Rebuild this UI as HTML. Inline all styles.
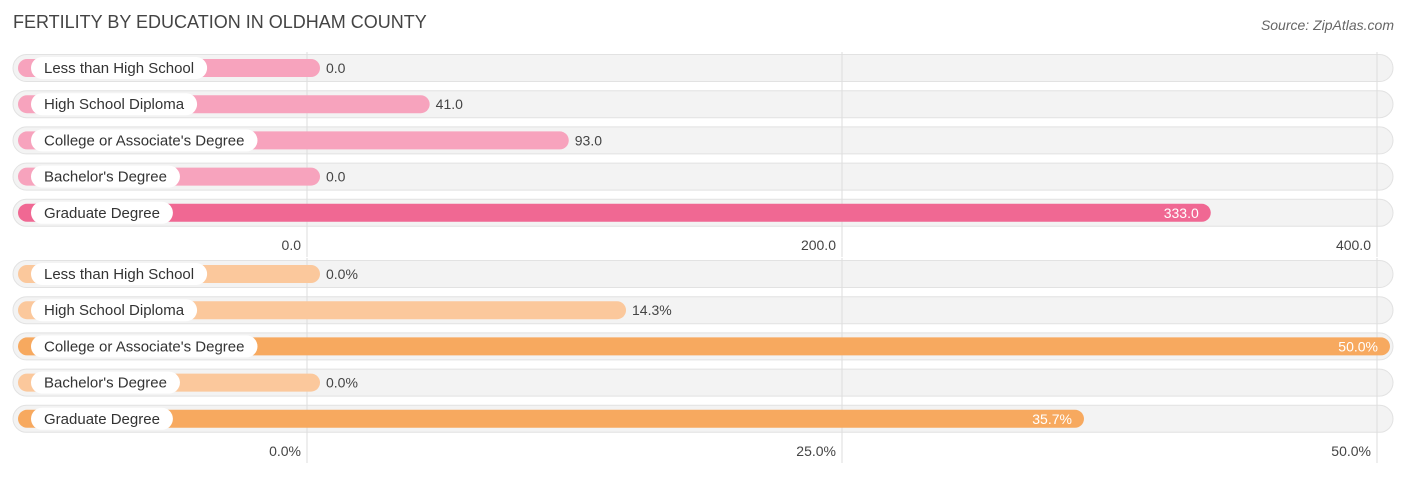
<!DOCTYPE html>
<html><head><meta charset="utf-8"><style>
body{margin:0;background:#fff;font-family:"Liberation Sans",sans-serif;}
svg text{font-family:"Liberation Sans",sans-serif;}
</style></head><body>
<svg id="c" width="1406" height="475" xmlns="http://www.w3.org/2000/svg">
<text x="13" y="28" font-size="18" fill="#444">FERTILITY BY EDUCATION IN OLDHAM COUNTY</text>
<text x="1394" y="30" font-size="14" fill="#666" font-style="italic" text-anchor="end">Source: ZipAtlas.com</text>
</svg>
<script>
const categories=["Less than High School","High School Diploma","College or Associate's Degree","Bachelor's Degree","Graduate Degree"];
const countValues=[0,41,93,0,333];
const pctValues=[0,14.3,50,0,35.7];
const countTicks=[0,200,400];
const pctTicks=[0,25,50];
const svg=document.getElementById('c');
const NS='http://www.w3.org/2000/svg';
function mk(t,a,p){const e=document.createElementNS(NS,t);for(const k in a)e.setAttribute(k,a[k]);(p||svg).appendChild(e);return e;}
const x0=307,x1=1377;
function panel(name,vals,ticks,max,top,axisY,fmt,light,dark,name2){
  const sx=v=>x0+v/max*(x1-x0);
  const g=mk('g',{});
  
  
  vals.forEach((v,i)=>{
    const cy=top+i*36.2;
    const bg=mk('rect',{x:13,y:cy-13.5,width:1380,height:27,rx:13.5,fill:'#f3f3f3',stroke:'#e2e2e2'},g);
    
    
  });
  ticks.forEach(t=>{
    const l=mk('line',{x1:sx(t),x2:sx(t),y1:top-16,y2:axisY+12,stroke:'#ddd','stroke-width':1},g);
    
    
    const tx=mk('text',{x:sx(t)-6,y:axisY+5,'font-size':14,fill:'#444','text-anchor':'end'},g);
    tx.textContent=fmt(t);
    
    
  });
  vals.forEach((v,i)=>{
    const cy=top+i*36.2;
    const end=sx(v)+13;
    const big=v/max>0.6;
    const b=mk('rect',{x:18,y:cy-9,width:end-18,height:18,rx:9,fill:big?dark:light},g);
    
    
    const lbl=categories[i];
    const p=mk('rect',{x:31,y:cy-11,width:100,height:22,rx:11,fill:'#fff'},g);
    
    
    const t=mk('text',{x:44,y:cy+5,'font-size':15,fill:'#333'},g);
    t.textContent=lbl;
    
    
    let tw=lbl.length*7.3;
    try{tw=t.getComputedTextLength();}catch(e){}
    p.setAttribute('width',tw+26);
    const vt=mk('text',{x:big?end-12:end+6,y:cy+5,'font-size':14,fill:big?'#fff':'#444','text-anchor':big?'end':'start'},g);
    vt.textContent=fmt(v);
    
    
  });
}
panel('count-panel',countValues,countTicks,400,68,245,v=>v.toFixed(1),'#f7a3bd','#f06893','count');
panel('percent-panel',pctValues,pctTicks,50,274,451,v=>v.toFixed(1)+'%','#fbc89c','#f7a95f','pct');
</script>
</body></html>
